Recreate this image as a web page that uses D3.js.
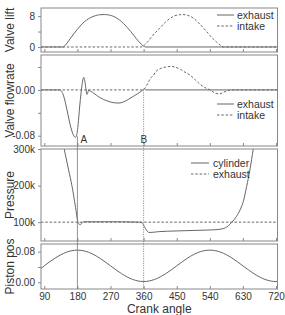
<!DOCTYPE html>
<html>
<head>
<script src="https://cdn.jsdelivr.net/npm/d3@7"></script>
<style>
  body { margin: 0; background: #fff; }
  text { font-family: "Liberation Sans", Arial, sans-serif; fill: #333; }
</style>
</head>
<body>
<div id="chart"></div>
<script>
// crank angle ticks
const angleTicks = [90, 180, 270, 360, 450, 540, 630, 720];

// valve lift (mm), [crank angle, lift]
const exhaustLift = [[81, 0], [141, 0], [150, 0.8], [160, 2.1], [170, 3.4], [180, 4.6], [190, 5.7],
  [200, 6.6], [210, 7.3], [220, 7.8], [230, 8.15], [240, 8.35], [253, 8.4], [265, 8.3], [275, 8.05],
  [285, 7.6], [295, 6.95], [305, 6.1], [315, 5.1], [325, 4.0], [335, 2.8], [345, 1.6], [355, 0.6],
  [362, 0.1], [366, 0], [724, 0]];
const intakeLift = [[81, 0], [354, 0], [362, 0.5], [372, 1.5], [385, 3.0], [405, 5.0], [420, 6.5],
  [432, 7.4], [445, 8.1], [457, 8.35], [467, 8.4], [480, 8.2], [495, 7.5], [510, 6.2], [522, 5.0],
  [532, 3.9], [545, 2.5], [558, 1.3], [568, 0.5], [576, 0], [724, 0]];

// valve flowrate
const exhaustFlow = [[81, 0], [130, 0], [135, -0.001], [140, -0.006], [145, -0.016], [150, -0.03],
  [155, -0.045], [160, -0.06], [165, -0.072], [170, -0.08], [174, -0.083], [178, -0.079],
  [182, -0.06], [186, -0.03], [190, -0.005], [194, 0.015], [197, 0.022], [200, 0.016],
  [203, 0.003], [206, -0.008], [208, -0.005], [211, 0.0], [214, -0.002], [218, -0.003],
  [225, -0.006], [240, -0.013], [260, -0.019], [280, -0.0225], [292, -0.023], [305, -0.021],
  [320, -0.016], [335, -0.01], [350, -0.004], [358, 0], [362, 0.002], [366, 0], [724, 0]];
const intakeFlow = [[81, 0], [355, 0], [360, 0.001], [365, 0.004], [370, 0.01], [375, 0.016],
  [378, 0.02], [385, 0.024], [392, 0.031], [405, 0.037], [420, 0.040], [432, 0.041], [445, 0.040],
  [460, 0.036], [475, 0.030], [486, 0.026], [500, 0.018], [515, 0.009], [530, 0.003], [541, 0],
  [553, -0.005], [566, -0.007], [578, -0.004], [590, -0.001], [598, 0], [724, 0]];

// pressure (Pa)
const cylinderPressure = [[120, 420000], [144, 300000], [156, 243000], [165, 200000], [175, 140000],
  [181, 102000], [185, 94000], [188, 93000], [192, 98000], [196, 101000], [250, 101000],
  [300, 101000], [350, 100000], [356, 98000], [362, 88000], [368, 78000], [374, 72000],
  [380, 72000], [400, 74000], [450, 76000], [500, 77500], [550, 79000], [575, 82000],
  [590, 90000], [600, 100000], [612, 115000], [622, 133000], [632, 160000], [640, 197000],
  [649, 243000], [658, 300000], [670, 380000]];
const exhaustPressure = [[81, 100000], [724, 100000]];

// piston position (m)
const pistonPos = [[81, 0.036], [90, 0.043], [120, 0.0635], [150, 0.0785], [180, 0.084],
  [210, 0.0785], [240, 0.0635], [270, 0.043], [300, 0.0225], [330, 0.0075], [360, 0.002],
  [390, 0.0075], [420, 0.0225], [450, 0.043], [480, 0.0635], [510, 0.0785], [540, 0.084],
  [570, 0.0785], [600, 0.0635], [630, 0.043], [660, 0.0225], [690, 0.0075], [720, 0.002],
  [724, 0.0025]];

const width = 285, height = 315;
const lineColor = "#666", frameColor = "#888";

const svg = d3.select("#chart").append("svg")
  .attr("width", width).attr("height", height);

const x = d3.scaleLinear().domain([81, 724]).range([41, 277.5]);

const panels = [
  { title: "Valve lift", top: 8, bottom: 52, domain: [-1.3, 10.1],
    ticks: [0, 4, 8], labels: { 0: "0", 8: "8" },
    series: [{ data: exhaustLift, dash: null }, { data: intakeLift, dash: "2.5,1.8" }],
    legend: { names: ["exhaust", "intake"], x0: 217, x1: 234, tx: 237, rows: [7, 18] } },
  { title: "Valve flowrate", top: 55, bottom: 146, domain: [-0.098, 0.061],
    ticks: [-0.08, -0.04, 0, 0.04], labels: { "-0.08": "-0.08", "0": "0.00" },
    series: [{ data: intakeFlow, dash: "2.5,1.8" }, { data: exhaustFlow, dash: null }],
    legend: { names: ["exhaust", "intake"], x0: 217, x1: 234, tx: 237, rows: [49, 60] } },
  { title: "Pressure", top: 149, bottom: 241, domain: [48500, 300000],
    ticks: [100000, 200000, 300000], labels: { 100000: "100k", 200000: "200k", 300000: "300k" },
    series: [{ data: exhaustPressure, dash: "2.5,1.8" }, { data: cylinderPressure, dash: null }],
    legend: { names: ["cylinder", "exhaust"], x0: 191, x1: 209, tx: 213, rows: [14, 25] } },
  { title: "Piston pos", top: 244, bottom: 289, domain: [-0.0175, 0.1],
    ticks: [0, 0.04, 0.08], labels: { 0: "0.00", 0.08: "0.08" },
    series: [{ data: pistonPos, dash: null }],
    legend: null }
];

const line = d3.line().curve(d3.curveMonotoneX);

panels.forEach((p, i) => {
  const y = d3.scaleLinear().domain(p.domain).range([p.bottom, p.top]);
  p.y = y;
  const g = svg.append("g");

  const clipId = "clip" + i;
  svg.append("clipPath").attr("id", clipId).append("rect")
    .attr("x", x.range()[0]).attr("y", p.top)
    .attr("width", x.range()[1] - x.range()[0]).attr("height", p.bottom - p.top);

  // y axis
  const yAxis = g.append("g")
    .attr("transform", `translate(${x.range()[0]},0)`)
    .call(d3.axisLeft(y).tickValues(p.ticks).tickSize(3).tickPadding(3)
      .tickFormat(d => p.labels[d] !== undefined ? p.labels[d] : ""));
  yAxis.select(".domain").remove();
  yAxis.selectAll("line").attr("stroke", frameColor);
  yAxis.selectAll("text").style("font-size", "10px").attr("fill", "#333");

  // x axis ticks (inward), labels only on the last panel
  const xAxis = g.append("g")
    .attr("transform", `translate(0,${p.bottom})`)
    .call(d3.axisBottom(x).tickValues(angleTicks).tickSizeInner(-3).tickSizeOuter(0).tickPadding(4)
      .tickFormat(i === panels.length - 1 ? d3.format("d") : () => ""));
  xAxis.select(".domain").remove();
  xAxis.selectAll("line").attr("stroke", frameColor);
  xAxis.selectAll("text").style("font-size", "10px").attr("fill", "#333");

  // data lines
  const lines = g.append("g").attr("clip-path", `url(#${clipId})`);
  p.series.forEach(s => {
    lines.append("path")
      .datum(s.data)
      .attr("fill", "none")
      .attr("stroke", lineColor)
      .attr("stroke-width", 1)
      .attr("stroke-dasharray", s.dash)
      .attr("d", line.x(d => x(d[0])).y(d => y(d[1])));
  });

  // frame
  g.append("rect")
    .attr("x", x.range()[0]).attr("y", p.top)
    .attr("width", x.range()[1] - x.range()[0]).attr("height", p.bottom - p.top)
    .attr("fill", "none").attr("stroke", frameColor).attr("stroke-width", 1);

  // y title
  svg.append("text")
    .attr("transform", `translate(14,${(p.top + p.bottom) / 2}) rotate(-90)`)
    .attr("text-anchor", "middle")
    .style("font-size", "12px")
    .text(p.title);

  // legend
  if (p.legend) {
    const lg = g.append("g");
    p.legend.names.forEach((name, k) => {
      const cy = p.top + p.legend.rows[k];
      lg.append("line")
        .attr("x1", p.legend.x0).attr("x2", p.legend.x1)
        .attr("y1", cy).attr("y2", cy)
        .attr("stroke", lineColor)
        .attr("stroke-dasharray", k === 0 ? null : "2.5,1.8");
      lg.append("text")
        .attr("x", p.legend.tx).attr("y", cy)
        .attr("dy", "0.35em")
        .style("font-size", "10.5px")
        .text(name);
    });
  }
});

// markers A and B
const flowY = panels[1].y;
const lastBottom = panels[3].bottom;
svg.append("line")
  .attr("x1", x(180)).attr("x2", x(180))
  .attr("y1", flowY(-0.081)).attr("y2", lastBottom)
  .attr("stroke", "#777").attr("stroke-width", 0.8);
svg.append("line")
  .attr("x1", x(360)).attr("x2", x(360))
  .attr("y1", flowY(0)).attr("y2", lastBottom)
  .attr("stroke", "#777").attr("stroke-width", 0.8)
  .attr("stroke-dasharray", "1.2,1.2");
svg.append("text")
  .attr("x", x(180) + 3).attr("y", 143)
  .style("font-size", "10px").text("A");
svg.append("text")
  .attr("x", x(360) - 3).attr("y", 143)
  .style("font-size", "10px").text("B");

// x title
svg.append("text")
  .attr("x", (x.range()[0] + x.range()[1]) / 2).attr("y", 313)
  .attr("text-anchor", "middle")
  .style("font-size", "12px")
  .text("Crank angle");
</script>
</body>
</html>
